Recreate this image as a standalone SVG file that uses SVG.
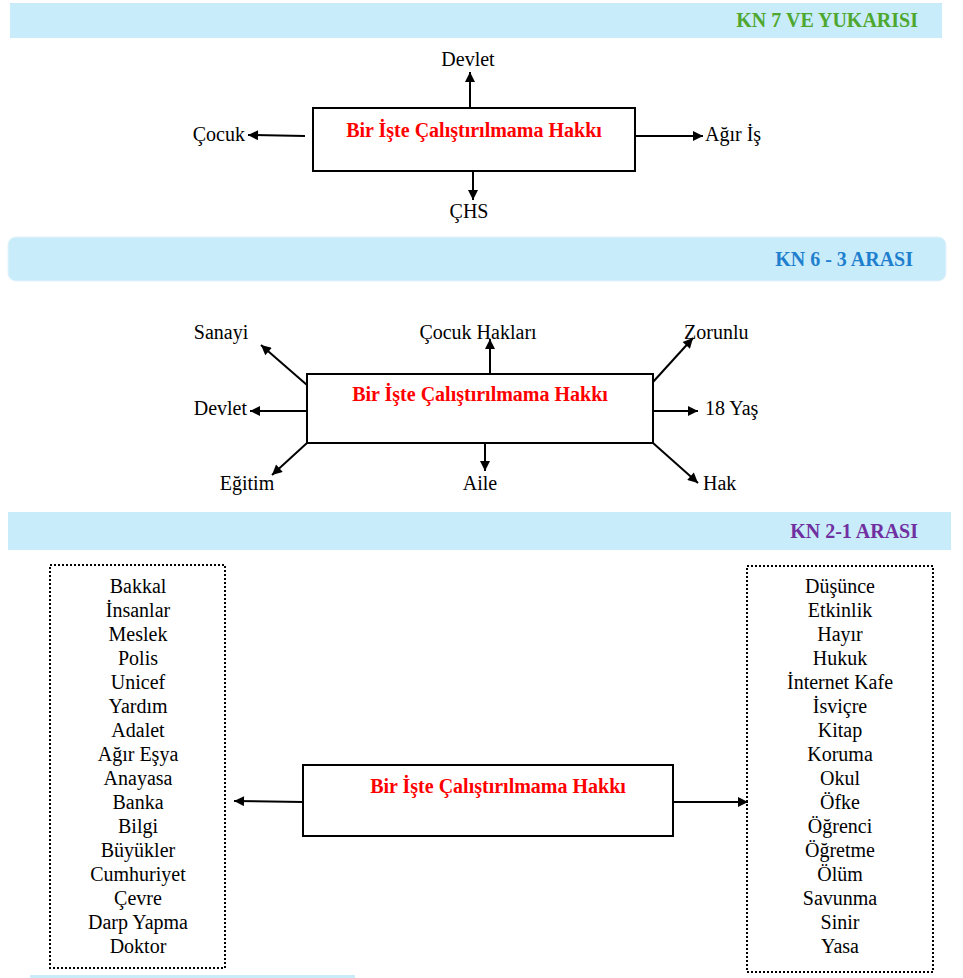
<svg xmlns="http://www.w3.org/2000/svg" width="963" height="978" viewBox="0 0 963 978">
<defs>
<marker id="ah" viewBox="0 0 10 10" refX="10" refY="5" markerWidth="12" markerHeight="10" markerUnits="userSpaceOnUse" orient="auto">
<path d="M0,0 L10,5 L0,10 z" fill="#000"/>
</marker>
<style>
.hdr{fill:#c9ecfb}
text{font-family:"Liberation Serif","Times New Roman",Tinos,"DejaVu Serif",serif}
.htitle{font-weight:bold;font-size:20px;text-anchor:end}
.box{fill:#fff;stroke:#000;stroke-width:2}
.dbox{fill:#fff;stroke:#000;stroke-width:2;stroke-dasharray:2 2}
.title{font-weight:bold;font-size:20px;fill:#ff0000;text-anchor:middle}
.lbl{font-size:20px;fill:#000}
.mid{text-anchor:middle}
.end{text-anchor:end}
.con line{stroke:#000;stroke-width:2;marker-end:url(#ah)}
</style>
</defs>
<rect width="963" height="978" fill="#fff"/>

<!-- Section 1 -->
<g id="header1">
<rect class="hdr" x="10" y="3" width="932" height="35"/>
<text class="htitle" x="918" y="27" fill="#4ea72e">KN 7 VE YUKARISI</text>
</g>
<g id="node1">
<rect class="box" x="313" y="108" width="322" height="63"/>
<text class="title" x="474" y="137">Bir İşte Çalıştırılmama Hakkı</text>
</g>
<g id="s1-labels">
<text class="lbl mid" x="468" y="66">Devlet</text>
<text class="lbl end" x="245" y="141">Çocuk</text>
<text class="lbl" x="705" y="141">Ağır İş</text>
<text class="lbl mid" x="469" y="218">ÇHS</text>
</g>

<!-- Section 2 -->
<g id="header2">
<rect class="hdr" x="8" y="237" width="938" height="44" rx="8" stroke="#e2f3fb" stroke-width="1"/>
<text class="htitle" x="913" y="266" fill="#1f7fcf">KN 6 - 3 ARASI</text>
</g>
<g id="node2">
<rect class="box" x="307" y="374" width="346" height="69"/>
<text class="title" x="480" y="401">Bir İşte Çalıştırılmama Hakkı</text>
</g>
<g id="s2-labels">
<text class="lbl mid" x="221" y="339">Sanayi</text>
<text class="lbl mid" x="478" y="339">Çocuk Hakları</text>
<text class="lbl" x="684" y="339">Zorunlu</text>
<text class="lbl end" x="247" y="415">Devlet</text>
<text class="lbl" x="705" y="415">18 Yaş</text>
<text class="lbl mid" x="247" y="490">Eğitim</text>
<text class="lbl mid" x="480" y="490">Aile</text>
<text class="lbl" x="703" y="490">Hak</text>
</g>

<!-- Section 3 -->
<g id="header3">
<rect class="hdr" x="8" y="512" width="943" height="38"/>
<text class="htitle" x="918" y="538" fill="#7030a0">KN 2-1 ARASI</text>
</g>
<g id="node3">
<rect class="box" x="303" y="765" width="370" height="71"/>
<text class="title" x="498" y="793">Bir İşte Çalıştırılmama Hakkı</text>
</g>
<g id="list-left">
<rect class="dbox" x="50" y="565" width="175" height="403"/>
<text class="lbl mid" x="138" y="593">Bakkal</text>
<text class="lbl mid" x="138" y="617">İnsanlar</text>
<text class="lbl mid" x="138" y="641">Meslek</text>
<text class="lbl mid" x="138" y="665">Polis</text>
<text class="lbl mid" x="138" y="689">Unicef</text>
<text class="lbl mid" x="138" y="713">Yardım</text>
<text class="lbl mid" x="138" y="737">Adalet</text>
<text class="lbl mid" x="138" y="761">Ağır Eşya</text>
<text class="lbl mid" x="138" y="785">Anayasa</text>
<text class="lbl mid" x="138" y="809">Banka</text>
<text class="lbl mid" x="138" y="833">Bilgi</text>
<text class="lbl mid" x="138" y="857">Büyükler</text>
<text class="lbl mid" x="138" y="881">Cumhuriyet</text>
<text class="lbl mid" x="138" y="905">Çevre</text>
<text class="lbl mid" x="138" y="929">Darp Yapma</text>
<text class="lbl mid" x="138" y="953">Doktor</text>
</g>
<g id="list-right">
<rect class="dbox" x="747" y="566" width="186" height="406"/>
<text class="lbl mid" x="840" y="593">Düşünce</text>
<text class="lbl mid" x="840" y="617">Etkinlik</text>
<text class="lbl mid" x="840" y="641">Hayır</text>
<text class="lbl mid" x="840" y="665">Hukuk</text>
<text class="lbl mid" x="840" y="689">İnternet Kafe</text>
<text class="lbl mid" x="840" y="713">İsviçre</text>
<text class="lbl mid" x="840" y="737">Kitap</text>
<text class="lbl mid" x="840" y="761">Koruma</text>
<text class="lbl mid" x="840" y="785">Okul</text>
<text class="lbl mid" x="840" y="809">Öfke</text>
<text class="lbl mid" x="840" y="833">Öğrenci</text>
<text class="lbl mid" x="840" y="857">Öğretme</text>
<text class="lbl mid" x="840" y="881">Ölüm</text>
<text class="lbl mid" x="840" y="905">Savunma</text>
<text class="lbl mid" x="840" y="929">Sinir</text>
<text class="lbl mid" x="840" y="953">Yasa</text>
</g>
<rect x="30" y="975" width="325" height="3" fill="#c9ecfb"/>

<g id="connectors" class="con">
<line x1="470" y1="108" x2="470" y2="72"/>
<line x1="305" y1="136" x2="248" y2="135"/>
<line x1="635" y1="136" x2="703" y2="136"/>
<line x1="473" y1="171" x2="473" y2="200"/>

<line x1="307" y1="385" x2="261" y2="345"/>
<line x1="490" y1="374" x2="490" y2="339"/>
<line x1="653" y1="382" x2="693" y2="338"/>
<line x1="307" y1="411" x2="250" y2="411"/>
<line x1="653" y1="411" x2="698" y2="411"/>
<line x1="307" y1="443" x2="272" y2="475"/>
<line x1="485" y1="443" x2="485" y2="471"/>
<line x1="653" y1="443" x2="698" y2="483"/>

<line x1="303" y1="802" x2="234" y2="801"/>
<line x1="673" y1="802" x2="748" y2="802"/>
</g>
</svg>
